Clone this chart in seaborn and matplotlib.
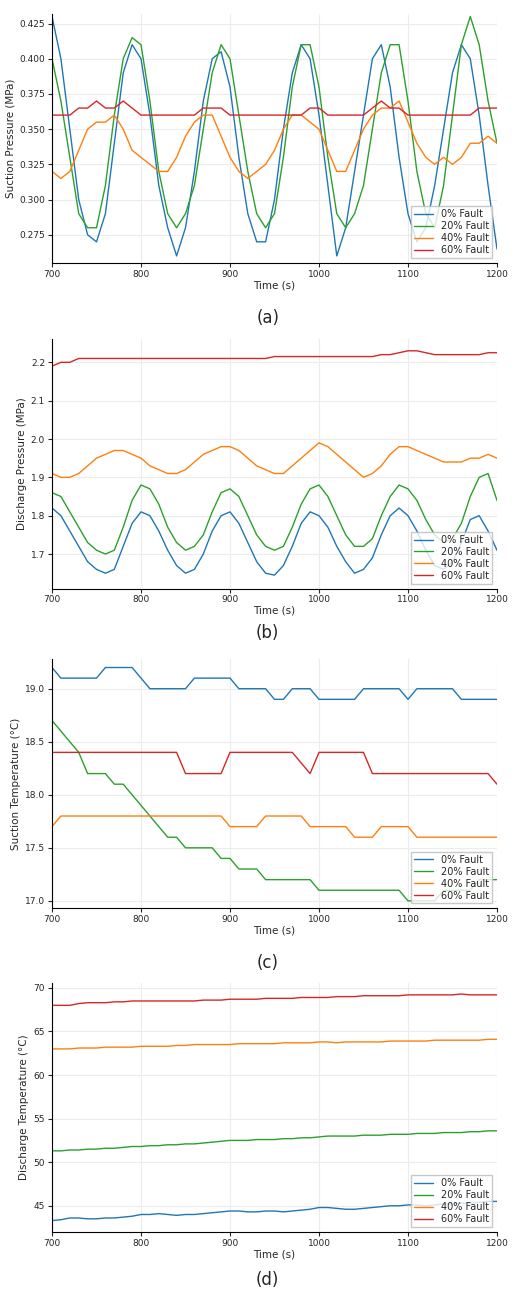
import numpy as np
import pandas as pd
import matplotlib
matplotlib.use("Agg")
import matplotlib.pyplot as plt
import seaborn as sns

time = list(range(700, 1201, 10))
labels = ["0% Fault", "20% Fault", "40% Fault", "60% Fault"]
colors = ["#1f77b4", "#2ca02c", "#ff7f0e", "#d62728"]

sp_0 = [0.43,0.40,0.35,0.30,0.275,0.27,0.29,0.34,0.39,0.41,0.40,0.36,0.31,0.28,0.26,0.28,0.32,0.37,0.40,0.405,0.38,0.33,0.29,0.27,0.27,0.30,0.35,0.39,0.41,0.40,0.36,0.31,0.26,0.28,0.32,0.36,0.40,0.41,0.38,0.33,0.29,0.27,0.28,0.31,0.35,0.39,0.41,0.40,0.36,0.31,0.265]
sp_20 = [0.40,0.37,0.33,0.29,0.28,0.28,0.31,0.36,0.40,0.415,0.41,0.37,0.32,0.29,0.28,0.29,0.31,0.35,0.39,0.41,0.40,0.36,0.32,0.29,0.28,0.29,0.33,0.38,0.41,0.41,0.38,0.33,0.29,0.28,0.29,0.31,0.35,0.39,0.41,0.41,0.37,0.32,0.29,0.28,0.31,0.36,0.41,0.43,0.41,0.37,0.34]
sp_40 = [0.32,0.315,0.32,0.335,0.35,0.355,0.355,0.36,0.35,0.335,0.33,0.325,0.32,0.32,0.33,0.345,0.355,0.36,0.36,0.345,0.33,0.32,0.315,0.32,0.325,0.335,0.35,0.36,0.36,0.355,0.35,0.335,0.32,0.32,0.335,0.35,0.36,0.365,0.365,0.37,0.355,0.34,0.33,0.325,0.33,0.325,0.33,0.34,0.34,0.345,0.34]
sp_60 = [0.36,0.36,0.36,0.365,0.365,0.37,0.365,0.365,0.37,0.365,0.36,0.36,0.36,0.36,0.36,0.36,0.36,0.365,0.365,0.365,0.36,0.36,0.36,0.36,0.36,0.36,0.36,0.36,0.36,0.365,0.365,0.36,0.36,0.36,0.36,0.36,0.365,0.37,0.365,0.365,0.36,0.36,0.36,0.36,0.36,0.36,0.36,0.36,0.365,0.365,0.365]

dp_0 = [1.82,1.80,1.76,1.72,1.68,1.66,1.65,1.66,1.72,1.78,1.81,1.80,1.76,1.71,1.67,1.65,1.66,1.70,1.76,1.80,1.81,1.78,1.73,1.68,1.65,1.645,1.67,1.72,1.78,1.81,1.80,1.77,1.72,1.68,1.65,1.66,1.69,1.75,1.80,1.82,1.80,1.76,1.71,1.67,1.66,1.68,1.73,1.79,1.80,1.76,1.71]
dp_20 = [1.86,1.85,1.81,1.77,1.73,1.71,1.70,1.71,1.77,1.84,1.88,1.87,1.83,1.77,1.73,1.71,1.72,1.75,1.81,1.86,1.87,1.85,1.80,1.75,1.72,1.71,1.72,1.77,1.83,1.87,1.88,1.85,1.80,1.75,1.72,1.72,1.74,1.80,1.85,1.88,1.87,1.84,1.79,1.75,1.73,1.74,1.78,1.85,1.90,1.91,1.84]
dp_40 = [1.91,1.90,1.90,1.91,1.93,1.95,1.96,1.97,1.97,1.96,1.95,1.93,1.92,1.91,1.91,1.92,1.94,1.96,1.97,1.98,1.98,1.97,1.95,1.93,1.92,1.91,1.91,1.93,1.95,1.97,1.99,1.98,1.96,1.94,1.92,1.90,1.91,1.93,1.96,1.98,1.98,1.97,1.96,1.95,1.94,1.94,1.94,1.95,1.95,1.96,1.95]
dp_60 = [2.19,2.20,2.20,2.21,2.21,2.21,2.21,2.21,2.21,2.21,2.21,2.21,2.21,2.21,2.21,2.21,2.21,2.21,2.21,2.21,2.21,2.21,2.21,2.21,2.21,2.215,2.215,2.215,2.215,2.215,2.215,2.215,2.215,2.215,2.215,2.215,2.215,2.22,2.22,2.225,2.23,2.23,2.225,2.22,2.22,2.22,2.22,2.22,2.22,2.225,2.225]

st_0 = [19.2,19.1,19.1,19.1,19.1,19.1,19.2,19.2,19.2,19.2,19.1,19.0,19.0,19.0,19.0,19.0,19.1,19.1,19.1,19.1,19.1,19.0,19.0,19.0,19.0,18.9,18.9,19.0,19.0,19.0,18.9,18.9,18.9,18.9,18.9,19.0,19.0,19.0,19.0,19.0,18.9,19.0,19.0,19.0,19.0,19.0,18.9,18.9,18.9,18.9,18.9]
st_20 = [18.7,18.6,18.5,18.4,18.2,18.2,18.2,18.1,18.1,18.0,17.9,17.8,17.7,17.6,17.6,17.5,17.5,17.5,17.5,17.4,17.4,17.3,17.3,17.3,17.2,17.2,17.2,17.2,17.2,17.2,17.1,17.1,17.1,17.1,17.1,17.1,17.1,17.1,17.1,17.1,17.0,17.0,17.0,17.0,17.1,17.1,17.1,17.1,17.2,17.2,17.2]
st_40 = [17.7,17.8,17.8,17.8,17.8,17.8,17.8,17.8,17.8,17.8,17.8,17.8,17.8,17.8,17.8,17.8,17.8,17.8,17.8,17.8,17.7,17.7,17.7,17.7,17.8,17.8,17.8,17.8,17.8,17.7,17.7,17.7,17.7,17.7,17.6,17.6,17.6,17.7,17.7,17.7,17.7,17.6,17.6,17.6,17.6,17.6,17.6,17.6,17.6,17.6,17.6]
st_60 = [18.4,18.4,18.4,18.4,18.4,18.4,18.4,18.4,18.4,18.4,18.4,18.4,18.4,18.4,18.4,18.2,18.2,18.2,18.2,18.2,18.4,18.4,18.4,18.4,18.4,18.4,18.4,18.4,18.3,18.2,18.4,18.4,18.4,18.4,18.4,18.4,18.2,18.2,18.2,18.2,18.2,18.2,18.2,18.2,18.2,18.2,18.2,18.2,18.2,18.2,18.1]

dt_0 = [43.3,43.4,43.6,43.6,43.5,43.5,43.6,43.6,43.7,43.8,44.0,44.0,44.1,44.0,43.9,44.0,44.0,44.1,44.2,44.3,44.4,44.4,44.3,44.3,44.4,44.4,44.3,44.4,44.5,44.6,44.8,44.8,44.7,44.6,44.6,44.7,44.8,44.9,45.0,45.0,45.1,45.1,45.0,45.1,45.2,45.2,45.3,45.3,45.4,45.5,45.5]
dt_20 = [51.3,51.3,51.4,51.4,51.5,51.5,51.6,51.6,51.7,51.8,51.8,51.9,51.9,52.0,52.0,52.1,52.1,52.2,52.3,52.4,52.5,52.5,52.5,52.6,52.6,52.6,52.7,52.7,52.8,52.8,52.9,53.0,53.0,53.0,53.0,53.1,53.1,53.1,53.2,53.2,53.2,53.3,53.3,53.3,53.4,53.4,53.4,53.5,53.5,53.6,53.6]
dt_40 = [63.0,63.0,63.0,63.1,63.1,63.1,63.2,63.2,63.2,63.2,63.3,63.3,63.3,63.3,63.4,63.4,63.5,63.5,63.5,63.5,63.5,63.6,63.6,63.6,63.6,63.6,63.7,63.7,63.7,63.7,63.8,63.8,63.7,63.8,63.8,63.8,63.8,63.8,63.9,63.9,63.9,63.9,63.9,64.0,64.0,64.0,64.0,64.0,64.0,64.1,64.1]
dt_60 = [68.0,68.0,68.0,68.2,68.3,68.3,68.3,68.4,68.4,68.5,68.5,68.5,68.5,68.5,68.5,68.5,68.5,68.6,68.6,68.6,68.7,68.7,68.7,68.7,68.8,68.8,68.8,68.8,68.9,68.9,68.9,68.9,69.0,69.0,69.0,69.1,69.1,69.1,69.1,69.1,69.2,69.2,69.2,69.2,69.2,69.2,69.3,69.2,69.2,69.2,69.2]

panels = [
    ("Suction Pressure (MPa)", [sp_0, sp_20, sp_40, sp_60], (0.255, 0.432), [0.275,0.300,0.325,0.350,0.375,0.400,0.425], "{:.3f}", "(a)"),
    ("Discharge Pressure (MPa)", [dp_0, dp_20, dp_40, dp_60], (1.61, 2.26), [1.7,1.8,1.9,2.0,2.1,2.2], "{:.1f}", "(b)"),
    ("Suction Temperature (°C)", [st_0, st_20, st_40, st_60], (16.93, 19.28), [17.0,17.5,18.0,18.5,19.0], "{:.1f}", "(c)"),
    ("Discharge Temperature (°C)", [dt_0, dt_20, dt_40, dt_60], (42.0, 70.6), [45,50,55,60,65,70], "{:.0f}", "(d)"),
]

sns.set_style("whitegrid", {"grid.color": "#ececec", "axes.edgecolor": "black"})
plt.rcParams['font.family'] = ['DejaVu Sans']

fig = plt.figure(figsize=(5.15, 13.05), dpi=100)
bottoms = [0.7985, 0.549, 0.304, 0.056]
caps = [0.756, 0.515, 0.262, 0.019]
for (ylabel, series, ylim, yt, fmt, cap), b, cy in zip(panels, bottoms, caps):
    ax = fig.add_axes([0.101, b, 0.864, 0.191])
    for s, lab, c in zip(series, labels, colors):
        df = pd.DataFrame({"t": time, "v": s})
        sns.lineplot(data=df, x="t", y="v", ax=ax, color=c, label=lab, linewidth=1.0)
    ax.set_xlim(700, 1200)
    ax.set_ylim(*ylim)
    ax.set_xticks([700, 800, 900, 1000, 1100, 1200])
    ax.set_yticks(yt)
    ax.set_yticklabels([fmt.format(v) for v in yt])
    ax.tick_params(labelsize=6.5, length=3, pad=2, left=True, bottom=True)
    ax.set_xlabel("Time (s)", fontsize=7.5, labelpad=1)
    ax.set_ylabel(ylabel, fontsize=7.5, labelpad=3)
    for sp in ["top", "right"]:
        ax.spines[sp].set_visible(False)
    ax.legend(loc="lower right", fontsize=7, fancybox=False, edgecolor="#bbbbbb", borderpad=0.3, labelspacing=0.2, handlelength=2)
    fig.text(0.52, cy, cap, ha="center", va="center", fontsize=12)

fig.savefig("out.png", dpi=100)
